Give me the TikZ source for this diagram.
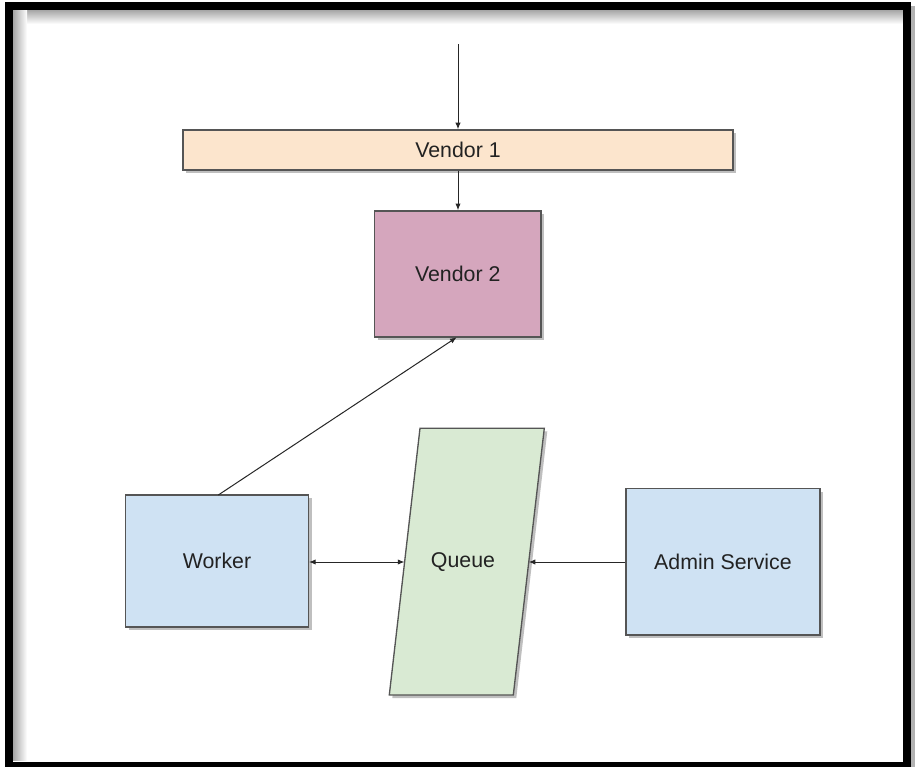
\documentclass[tikz,border=0pt]{standalone}
\usepackage{fontspec}
\setmainfont{Liberation Sans}
\usetikzlibrary{arrows.meta,shadows}
\definecolor{peach}{HTML}{FCE5CD}
\definecolor{mauve}{HTML}{D5A6BD}
\definecolor{lblue}{HTML}{CFE2F3}
\definecolor{lgreen}{HTML}{D9EAD3}
\definecolor{edge}{HTML}{555555}
\definecolor{txt}{HTML}{222222}
\tikzset{
  box/.style={draw=edge, line width=1pt, inner sep=0pt, font=\fontsize{16}{19}\selectfont, text=txt,
    drop shadow={shadow xshift=2.5pt, shadow yshift=-2.5pt, opacity=0.25, fill=black}},
  conn/.style={draw=black!85, line width=0.75pt},
  tip/.style={-{Latex[length=5pt,width=4pt]}}
}
\begin{document}
\begin{tikzpicture}[x=0.75pt,y=-0.75pt]
\useasboundingbox (0,0) rectangle (915,767);
\fill[white] (0,0) rectangle (915,767);
% inner shadows of the frame
\shade[top color=black!35, bottom color=white] (13,10) rectangle (903,24);
\shade[left color=black!35, right color=white] (13,10) rectangle (27,760);
\fill[black!30] (907,6) rectangle (915,767);
% frame
\draw[line width=6pt] (9,6) rectangle (907,766);
% nodes
\node[box, fill=peach, minimum width=412.5pt, minimum height=30pt] (v1) at (458,150) {Vendor 1};
\node[box, fill=mauve, minimum width=125pt, minimum height=94.7pt] (v2) at (457.7,274) {Vendor 2};
\node[box, fill=lblue, minimum width=137pt, minimum height=98.8pt] (worker) at (217,561) {Worker};
\node[box, fill=lblue, minimum width=145.5pt, minimum height=110pt] (admin) at (723,561.7) {Admin Service};
% queue parallelogram
\fill[black, opacity=0.25] (423,431.3) -- (547.3,431.3) -- (516.3,698) -- (392.3,698) -- cycle;
\draw[draw=edge, line width=1pt, fill=lgreen] (420,428.3) -- (544.3,428.3) -- (513.3,695) -- (389.3,695) -- cycle;
\node[font=\fontsize{16}{19}\selectfont, text=txt] (queue) at (463,562) {Queue};
\coordinate (qL) at (404.5,562);
\coordinate (qR) at (528.7,562);
\coordinate (top) at (458,44.5);
\coordinate (wtop) at (218.3,495);
\coordinate (v2bot) at (456.7,337.3);
% connectors
\draw[conn, tip] (top) -- (v1.north -| top);
\draw[conn, tip] (v1.south -| top) -- (v2.north -| top);
\draw[conn, tip] (wtop) -- (v2bot);
\draw[conn, {Latex[length=5pt,width=4pt]}-{Latex[length=5pt,width=4pt]}] (worker.east |- qL) -- (qL);
\draw[conn, tip] (admin.west |- qR) -- (qR);
\end{tikzpicture}
\end{document}
